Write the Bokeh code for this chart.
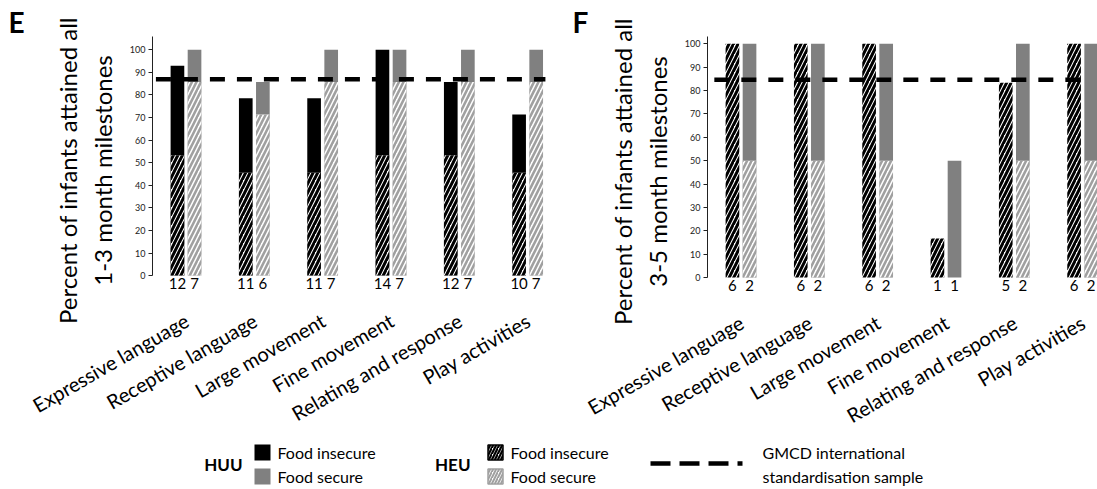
import math
from bokeh.plotting import figure
from bokeh.models import ColumnDataSource, Range1d, FixedTicker, CustomJSTickFormatter, LinearAxis
from bokeh.layouts import column, row
from bokeh.embed import file_html
from bokeh.resources import INLINE
from bokeh.core.properties import value

FONT = "Lato"

categories = ["Expressive language", "Receptive language", "Large movement",
              "Fine movement", "Relating and response", "Play activities"]

# Panel E: 1-3 month milestones (percent attained)
e_huu_insecure = [92.9, 78.6, 78.6, 100.0, 85.7, 71.4]
e_huu_secure = [100.0, 85.7, 100.0, 100.0, 100.0, 100.0]
e_heu_insecure = [53.3, 45.5, 45.5, 53.3, 53.3, 45.5]
e_heu_secure = [85.7, 71.4, 85.7, 85.7, 85.7, 85.7]
e_n_insecure = ["12", "11", "11", "14", "12", "10"]
e_n_secure = ["7", "6", "7", "7", "7", "7"]
e_gmcd = 87.0

# Panel F: 3-5 month milestones (percent attained)
f_huu_insecure = [0, 0, 0, 0, 0, 0]
f_huu_secure = [100.0, 100.0, 100.0, 50.0, 100.0, 100.0]
f_heu_insecure = [100.0, 100.0, 100.0, 16.7, 83.3, 100.0]
f_heu_secure = [50.0, 50.0, 50.0, 0, 50.0, 50.0]
f_n_insecure = ["6", "6", "6", "1", "5", "6"]
f_n_secure = ["2", "2", "2", "1", "2", "2"]
f_gmcd = 84.6

y_ticks = [0, 10, 20, 30, 40, 50, 60, 70, 80, 90, 100]

ylabel_line1 = "Percent of infants attained all"
e_ylabel_line2 = "1-3 month milestones"
f_ylabel_line2 = "3-5 month milestones"

legend_groups = ["HUU", "HEU"]
legend_labels = ["Food insecure", "Food secure"]
legend_line_labels = ["GMCD international", "standardisation sample"]

HUU_INS_COLOR = "#000000"
HUU_SEC_COLOR = "#808080"
HEU_SEC_HATCH = "#a0a0a0"

CAT_PX = 68.33  # pixel width of one category slot


def style_label(ax, text, standoff):
    ax.axis_label = text
    ax.axis_label_text_font = FONT
    ax.axis_label_text_font_size = "24px"
    ax.axis_label_text_font_style = "normal"
    ax.axis_label_text_color = "black"
    ax.axis_label_standoff = standoff


def make_panel(letter, line2, huu_ins, huu_sec, heu_ins, heu_sec, n_ins, n_sec, gmcd,
               x_end, y_start, y_top, frame_w, frame_h, b_left, b_top, b_bottom, b_right,
               line_x0, line_x1, letter_offset):
    centers = [i + 0.5 for i in range(len(categories))]
    src = ColumnDataSource(dict(
        x_ins=[c - 0.135 for c in centers],
        x_sec=[c + 0.115 for c in centers],
        huu_ins=huu_ins, huu_sec=huu_sec,
        heu_ins=heu_ins, heu_sec=heu_sec,
        n_ins=n_ins, n_sec=n_sec,
    ))
    p = figure(x_range=Range1d(0, x_end), y_range=Range1d(y_start, y_top),
               frame_width=frame_w, frame_height=frame_h,
               min_border_left=b_left, min_border_right=b_right,
               min_border_top=b_top, min_border_bottom=b_bottom,
               title=letter,
               output_backend="svg", toolbar_location=None, tools="")
    p.outline_line_color = None
    p.xgrid.visible = False
    p.ygrid.visible = False
    p.background_fill_color = "white"
    p.border_fill_color = "white"

    # panel letter as the plot title, pushed left over the axis label area
    p.title.align = "left"
    p.title.offset = letter_offset
    p.title.standoff = -5
    p.title.text_font = FONT
    p.title.text_font_size = "28px"
    p.title.text_font_style = "bold"
    p.title.text_color = "black"

    w = 0.2
    p.vbar(x="x_ins", top="huu_ins", bottom=0, width=w, source=src,
           fill_color=HUU_INS_COLOR, line_color=None)
    p.vbar(x="x_sec", top="huu_sec", bottom=0, width=w, source=src,
           fill_color=HUU_SEC_COLOR, line_color=None)
    p.vbar(x="x_ins", top="heu_ins", bottom=0, width=w, source=src,
           fill_color="white", line_color=None, hatch_pattern="/",
           hatch_color="black", hatch_weight=3.0, hatch_scale=9)
    p.vbar(x="x_sec", top="heu_sec", bottom=0, width=w, source=src,
           fill_color="white", line_color=None, hatch_pattern="/",
           hatch_color=HEU_SEC_HATCH, hatch_weight=2.6, hatch_scale=9)

    p.segment(x0=line_x0, y0=gmcd, x1=line_x1, y1=gmcd, line_color="black",
              line_width=4.5, line_dash="15 12")

    for col, xcol in (("n_ins", "x_ins"), ("n_sec", "x_sec")):
        p.text(x=xcol, y=-0.9, text=col, source=src, text_align="center",
               text_baseline="top", text_font=value(FONT),
               text_font_size="15px", text_color="black")

    # y axis (inner line of the title)
    ya = p.yaxis[0]
    ya.ticker = FixedTicker(ticks=y_ticks)
    ya.bounds = (0, y_top)
    ya.major_tick_out = 4
    ya.major_tick_in = 0
    ya.minor_tick_line_color = None
    ya.axis_line_color = "#222222"
    ya.major_tick_line_color = "#222222"
    ya.major_label_text_font = FONT
    ya.major_label_text_font_size = "9px"
    ya.major_label_text_color = "#222222"
    ya.major_label_standoff = 3
    style_label(ya, line2, 10)

    # outer, tick-less axis carrying the first line of the title
    outer = LinearAxis(ticker=FixedTicker(ticks=[]), axis_line_color=None,
                       major_tick_line_color=None, minor_tick_line_color=None,
                       major_tick_out=0, major_tick_in=0, major_label_standoff=0)
    style_label(outer, ylabel_line1, 3)
    p.add_layout(outer, "left")

    # x axis with category names
    xa = p.xaxis[0]
    xa.ticker = FixedTicker(ticks=centers)
    xa.formatter = CustomJSTickFormatter(args=dict(labels=categories),
                                         code="return labels[Math.floor(tick)];")
    xa.axis_line_color = None
    xa.major_tick_line_color = None
    xa.minor_tick_line_color = None
    xa.major_label_orientation = math.pi / 6
    xa.major_label_text_font = FONT
    xa.major_label_text_font_size = "20px"
    xa.major_label_text_color = "black"
    xa.major_label_standoff = 8
    return p


# Panel E: frame 152..562 px, 36..304 px
pE = make_panel("E", e_ylabel_line2, e_huu_insecure, e_huu_secure, e_heu_insecure, e_heu_secure,
                e_n_insecure, e_n_secure, e_gmcd,
                x_end=6.0, y_start=-12.8, y_top=105.9, frame_w=410, frame_h=268,
                b_left=152, b_top=36, b_bottom=138, b_right=1,
                line_x0=0.05, line_x1=5.75, letter_offset=8 - 152)
# Panel F: frame 707..1097 px, 35..305 px
pF = make_panel("F", f_ylabel_line2, f_huu_insecure, f_huu_secure, f_heu_insecure, f_heu_secure,
                f_n_insecure, f_n_secure, f_gmcd,
                x_end=390 / CAT_PX, y_start=-12.4, y_top=103.1, frame_w=390, frame_h=270,
                b_left=144, b_top=35, b_bottom=137, b_right=0,
                line_x0=0.1, line_x1=5.56, letter_offset=572 - 707)

# Legend panel (units = pixels; y grows downward from the panel top)
LW, LH = 1097, 45
lg = figure(x_range=Range1d(0, LW), y_range=Range1d(LH, 0), width=LW, height=LH,
            min_border=0, x_axis_type=None, y_axis_type=None,
            output_backend="svg", toolbar_location=None, tools="")
lg.outline_line_color = None
lg.background_fill_color = "white"
lg.border_fill_color = "white"

row_y = [10, 34]
group_y = 22
# HUU block
lg.text(x=[242], y=[group_y], text=[legend_groups[0]], text_align="right", text_baseline="middle",
        text_font=value(FONT), text_font_style="bold", text_font_size="17px", text_color="black")
lg.rect(x=[262, 262], y=row_y, width=16, height=16,
        fill_color=[HUU_INS_COLOR, HUU_SEC_COLOR], line_color=None)
lg.text(x=[277, 277], y=row_y, text=legend_labels, text_align="left", text_baseline="middle",
        text_font=value(FONT), text_font_size="16px", text_color="black")
# HEU block
lg.text(x=[470], y=[group_y], text=[legend_groups[1]], text_align="right", text_baseline="middle",
        text_font=value(FONT), text_font_style="bold", text_font_size="17px", text_color="black")
lg.rect(x=[495], y=[row_y[0]], width=15, height=15, fill_color="white", line_color="black",
        line_width=1.5, hatch_pattern="/", hatch_color="black", hatch_weight=2.2, hatch_scale=6)
lg.rect(x=[495], y=[row_y[1]], width=15, height=15, fill_color="white", line_color=HEU_SEC_HATCH,
        line_width=1.5, hatch_pattern="/", hatch_color=HEU_SEC_HATCH, hatch_weight=2.0, hatch_scale=6)
lg.text(x=[510, 510], y=row_y, text=legend_labels, text_align="left", text_baseline="middle",
        text_font=value(FONT), text_font_size="16px", text_color="black")
# GMCD line
lg.segment(x0=650, y0=21, x1=742, y1=21, line_color="black", line_width=4.5, line_dash="20 9")
lg.text(x=[762, 762], y=row_y, text=legend_line_labels, text_align="left", text_baseline="middle",
        text_font=value(FONT), text_font_size="16px", text_color="black")

layout = column(row(pE, pF), lg)
open("out.html", "w").write(file_html(layout, INLINE))
